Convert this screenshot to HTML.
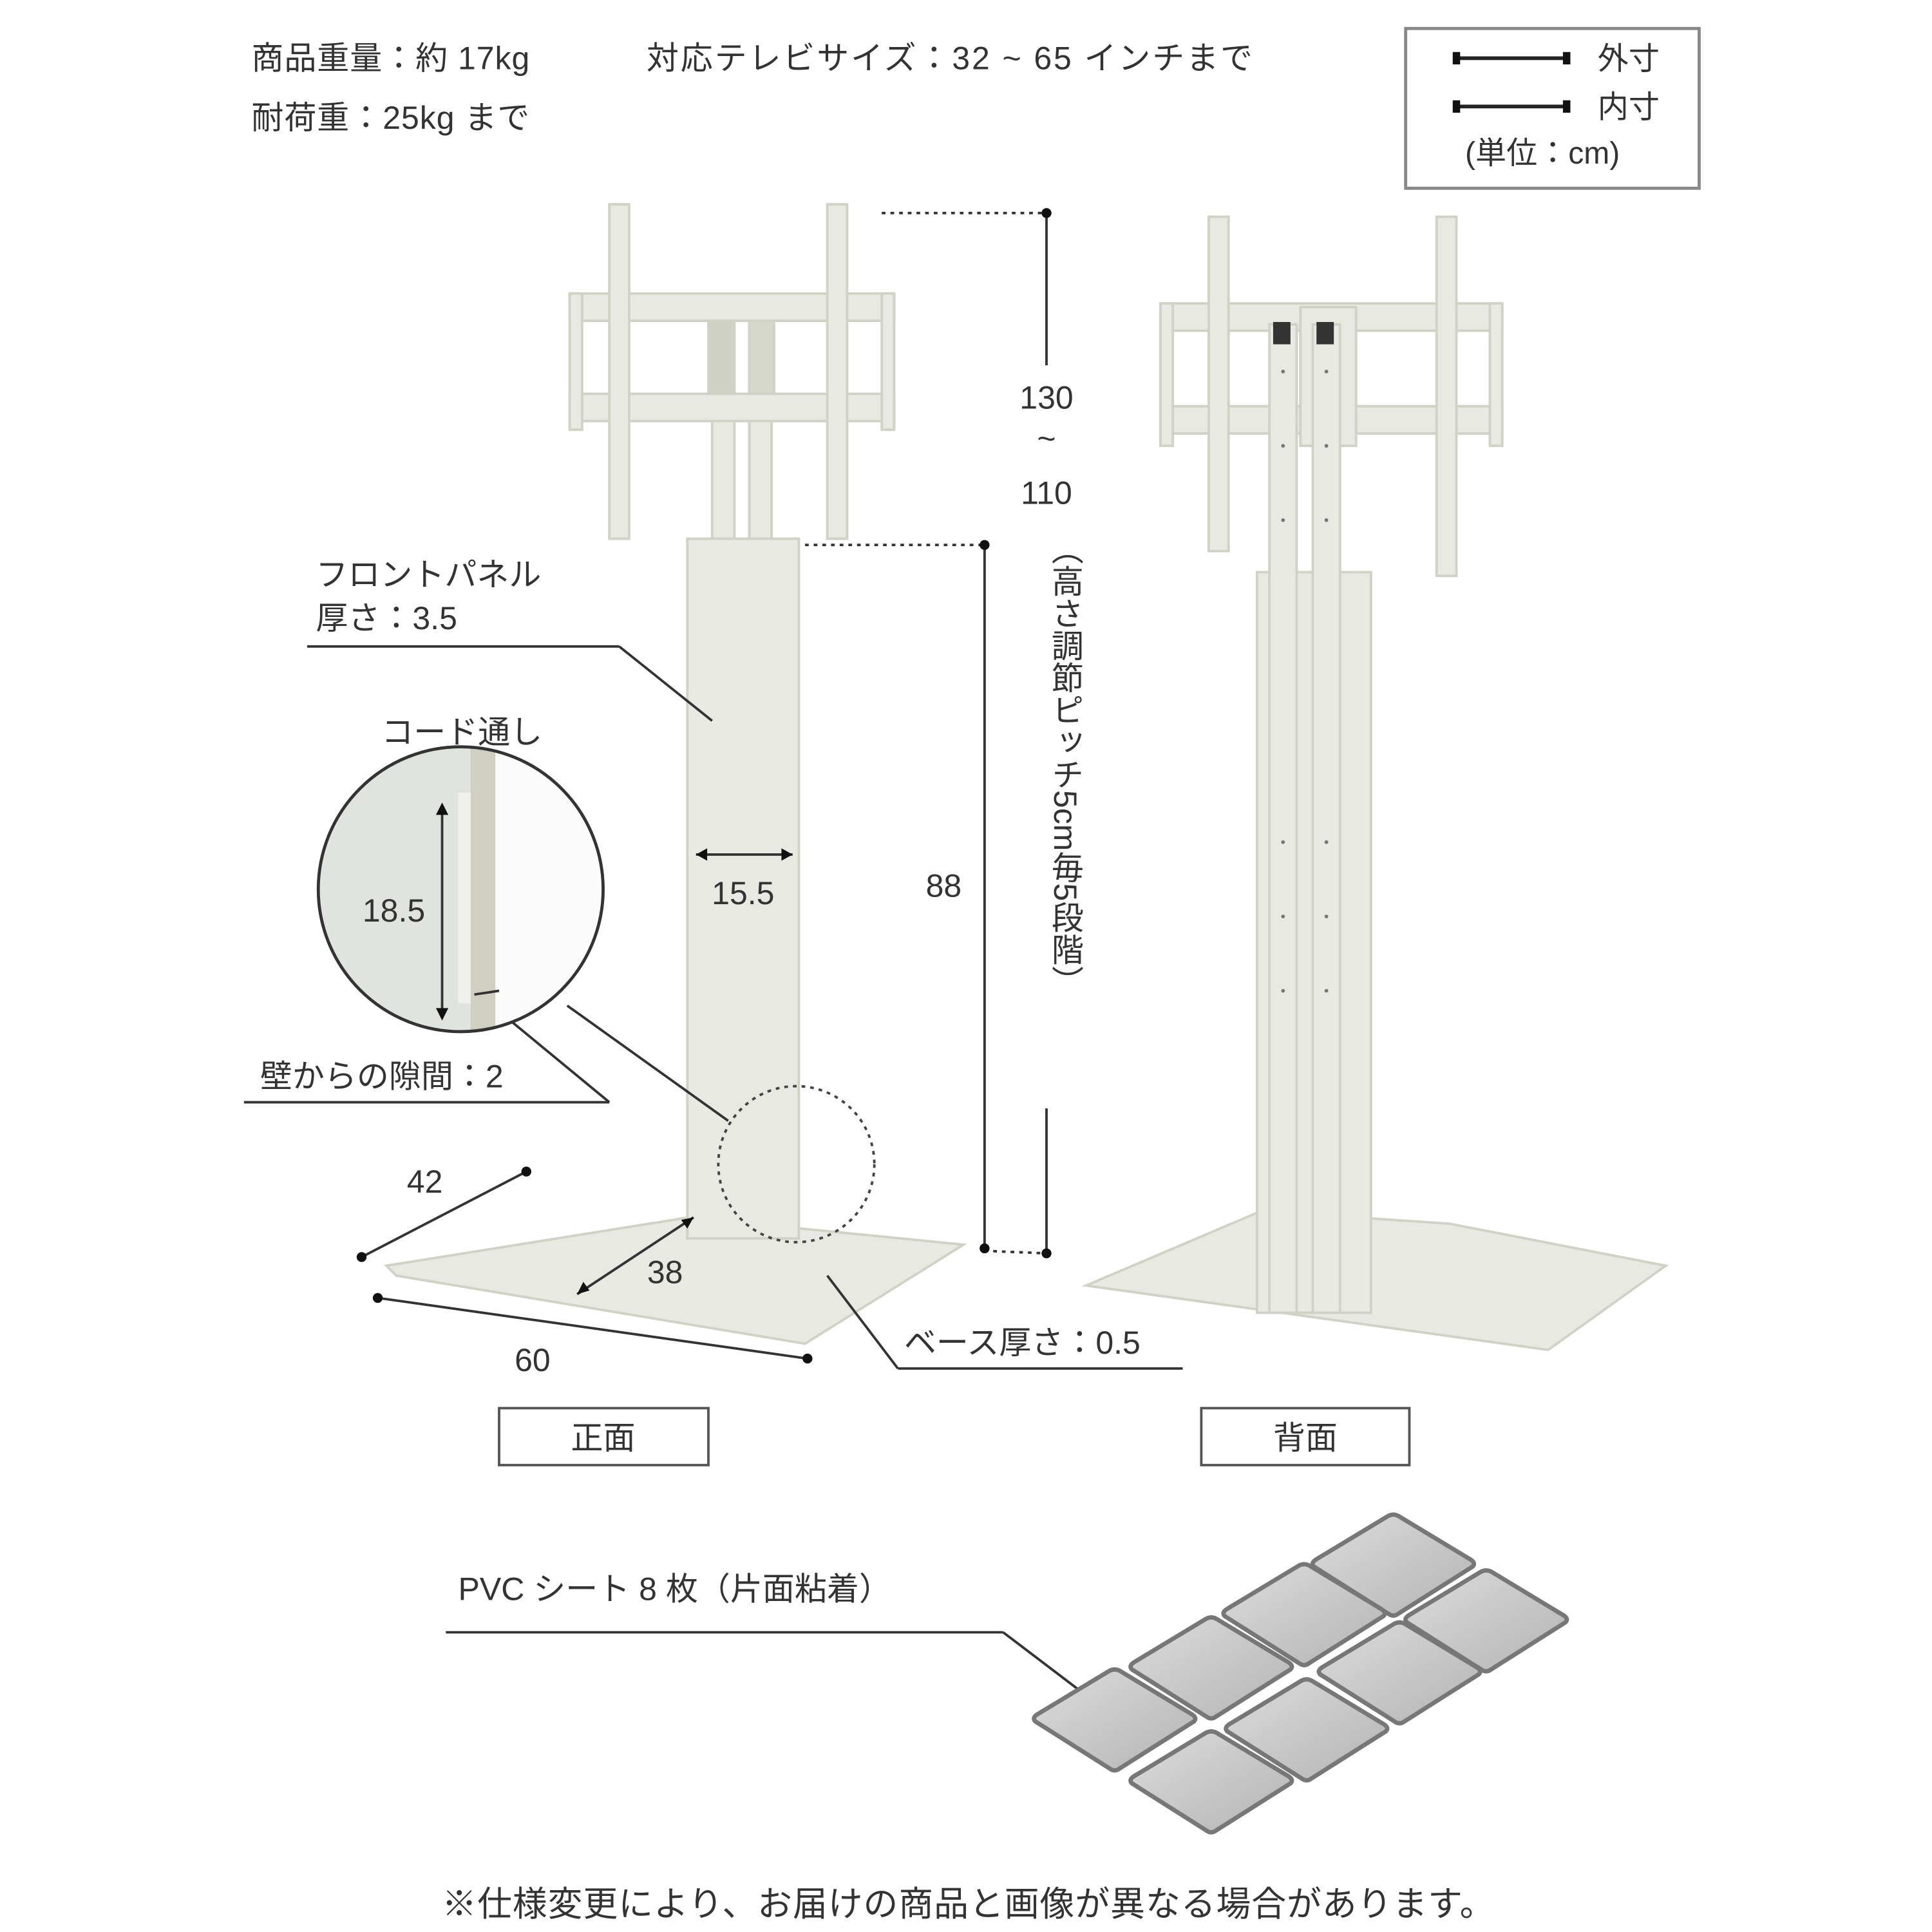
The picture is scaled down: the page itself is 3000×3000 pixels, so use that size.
<!DOCTYPE html>
<html><head><meta charset="utf-8"><style>
html,body{margin:0;padding:0;background:#fff}
svg{display:block}
text{font-family:"Liberation Sans","Noto Sans CJK JP",sans-serif;fill:#333}
</style></head><body>
<svg width="3000" height="3000" viewBox="0 0 1560 1560" xmlns="http://www.w3.org/2000/svg">
<defs>
<linearGradient id="tg" x1="0" y1="0" x2="1" y2="1"><stop offset="0" stop-color="#dcdcdc"/><stop offset="1" stop-color="#b4b4b4"/></linearGradient>
<clipPath id="cc"><circle cx="372" cy="718" r="115"/></clipPath>
<g id="tile"><path d="M-64,0 Q-67,-3 -62,-6 L-4,-41 Q0,-43 4,-41 L62,-6 Q67,-3 64,0 L4,38 Q0,41 -4,38 Z" fill="url(#tg)" stroke="#777" stroke-width="3.5"/></g>
</defs>
<g font-size="26" letter-spacing="0.5">
<text x="203" y="56">商品重量：約 17kg</text>
<text x="522" y="56" letter-spacing="1.5">対応テレビサイズ：32 ~ 65 インチまで</text>
<text x="203" y="104">耐荷重：25kg まで</text>
</g>
<rect x="1135" y="23" width="237" height="129" fill="#fff" stroke="#888" stroke-width="2.5"/>
<g stroke="#222" stroke-width="3"><line x1="1177" y1="47" x2="1266" y2="47"/><line x1="1177" y1="86" x2="1266" y2="86"/></g>
<g fill="#111"><rect x="1173" y="42" width="6" height="10"/><rect x="1262" y="42" width="6" height="10"/><rect x="1173" y="81" width="6" height="10"/><rect x="1262" y="81" width="6" height="10"/></g>
<g font-size="25"><text x="1290" y="56">外寸</text><text x="1290" y="95">内寸</text><text x="1183" y="132">(単位：cm)</text></g>

<!-- FRONT STAND -->
<g fill="#e8e9e3" stroke="#d0d2c6" stroke-width="2">
<rect x="575" y="258" width="18" height="180"/><rect x="605" y="258" width="18" height="180"/>
<rect x="572" y="258" width="20" height="60" fill="#cfd1c4"/><rect x="605" y="258" width="20" height="60" fill="#d6d8cc"/>
<rect x="460" y="237" width="262" height="22"/><rect x="460" y="318" width="262" height="22"/>
<rect x="460" y="237" width="10" height="110"/><rect x="712" y="237" width="10" height="110"/>
<rect x="492" y="165" width="16" height="270"/><rect x="668" y="165" width="16" height="270"/>
<polygon points="312,1022 556,983 778,1005 650,1085 320,1030"/>
<rect x="555" y="435" width="90" height="565"/>
</g>
<!-- BACK STAND -->
<g fill="#e8e9e3" stroke="#d0d2c6" stroke-width="2">
<polygon points="877,1038 1018,978 1170,988 1345,1022 1250,1090"/>
<rect x="937" y="245" width="276" height="22"/><rect x="937" y="328" width="276" height="22"/>
<rect x="937" y="245" width="10" height="115"/><rect x="1203" y="245" width="10" height="115"/>
<rect x="976" y="175" width="16" height="270"/><rect x="1160" y="175" width="16" height="290"/>
<rect x="1050" y="248" width="45" height="112"/>
<rect x="1015" y="462" width="92" height="598"/>
<rect x="1025" y="262" width="22" height="798"/><rect x="1060" y="262" width="22" height="798"/>
</g>
<rect x="1028" y="260" width="14" height="18" fill="#333"/><rect x="1063" y="260" width="14" height="18" fill="#333"/>
<g fill="#777"><circle cx="1036" cy="300" r="1.5"/><circle cx="1036" cy="360" r="1.5"/><circle cx="1036" cy="420" r="1.5"/><circle cx="1036" cy="680" r="1.5"/><circle cx="1036" cy="740" r="1.5"/><circle cx="1036" cy="800" r="1.5"/><circle cx="1071" cy="300" r="1.5"/><circle cx="1071" cy="360" r="1.5"/><circle cx="1071" cy="420" r="1.5"/><circle cx="1071" cy="680" r="1.5"/><circle cx="1071" cy="740" r="1.5"/><circle cx="1071" cy="800" r="1.5"/></g>

<!-- dimension lines -->
<g stroke="#333" stroke-width="2" fill="none">
<line x1="712" y1="172" x2="845" y2="172" stroke-dasharray="3 4"/>
<line x1="845" y1="172" x2="845" y2="295"/>
<line x1="845" y1="895" x2="845" y2="1012"/>
<line x1="650" y1="440" x2="795" y2="440" stroke-dasharray="3 4"/>
<line x1="795" y1="440" x2="795" y2="1008"/>
<line x1="795" y1="1010" x2="845" y2="1012" stroke-dasharray="3 4"/>
<line x1="562" y1="690" x2="640" y2="690"/>
<line x1="292" y1="1015" x2="425" y2="946"/>
<line x1="305" y1="1048" x2="652" y2="1097"/>
<line x1="466" y1="1045" x2="560" y2="983"/>
<line x1="248" y1="522" x2="500" y2="522"/><line x1="500" y1="522" x2="575" y2="582"/>
<line x1="197" y1="890" x2="492" y2="890"/><line x1="492" y1="890" x2="395" y2="810"/>
<line x1="458" y1="812" x2="588" y2="905"/>
<line x1="668" y1="1030" x2="725" y2="1105"/><line x1="725" y1="1105" x2="955" y2="1105"/>
<line x1="360" y1="1318" x2="810" y2="1318"/><line x1="810" y1="1318" x2="885" y2="1375"/>
</g>
<g fill="#111"><circle cx="845" cy="172" r="4"/><circle cx="845" cy="1012" r="4"/><circle cx="795" cy="440" r="4"/><circle cx="795" cy="1008" r="4"/><circle cx="292" cy="1015" r="4"/><circle cx="425" cy="946" r="4"/><circle cx="305" cy="1048" r="4"/><circle cx="652" cy="1097" r="4"/>
<path d="M562,690 l9,-5 v10z M640,690 l-9,-5 v10z M466,1045 l5,-10 l5,7z M560,983 l-10,2 l5,7z"/></g>
<circle cx="643" cy="940" r="63" fill="none" stroke="#444" stroke-width="2" stroke-dasharray="3 4"/>

<!-- detail circle -->
<g clip-path="url(#cc)">
<rect x="250" y="600" width="250" height="240" fill="#e1e3df"/>
<rect x="398" y="600" width="100" height="240" fill="#fbfbfb"/>
<rect x="380" y="600" width="20" height="240" fill="#cfd0c2"/>
<rect x="370" y="640" width="10" height="170" fill="#f0f1ec"/>
</g>
<circle cx="372" cy="718" r="115" fill="none" stroke="#333" stroke-width="2.5"/>
<g stroke="#333" stroke-width="2"><line x1="357" y1="652" x2="357" y2="820"/><line x1="383" y1="803" x2="403" y2="800"/></g>
<g fill="#111"><path d="M357,648 l-5,10 h10z M357,824 l-5,-10 h10z"/></g>

<g font-size="26">
<text x="845" y="330" text-anchor="middle">130</text>
<text x="845" y="363" text-anchor="middle">~</text>
<text x="845" y="407" text-anchor="middle">110</text>
<text x="860" y="430" writing-mode="tb" glyph-orientation-vertical="0">（高さ調節ピッチ5cm毎5段階）</text>
<text x="762" y="724" text-anchor="middle">88</text>
<text x="600" y="730" text-anchor="middle">15.5</text>
<text x="255" y="473">フロントパネル</text>
<text x="255" y="508">厚さ：3.5</text>
<text x="373" y="600" text-anchor="middle">コード通し</text>
<text x="318" y="744" text-anchor="middle">18.5</text>
<text x="210" y="878">壁からの隙間：2</text>
<text x="343" y="963" text-anchor="middle">42</text>
<text x="537" y="1036" text-anchor="middle">38</text>
<text x="430" y="1107" text-anchor="middle">60</text>
<text x="730" y="1093">ベース厚さ：0.5</text>
<text x="370" y="1292">PVC シート 8 枚（片面粘着）</text>
<text x="782" y="1547" text-anchor="middle" font-size="28" letter-spacing="0.5">※仕様変更により、お届けの商品と画像が異なる場合があります。</text>
</g>
<rect x="403" y="1137" width="169" height="46" fill="#fff" stroke="#555" stroke-width="2"/>
<rect x="970" y="1137" width="168" height="46" fill="#fff" stroke="#555" stroke-width="2"/>
<g font-size="26"><text x="487" y="1170" text-anchor="middle">正面</text><text x="1054" y="1170" text-anchor="middle">背面</text></g>

<!-- tiles -->
<use href="#tile" x="1125" y="1265"/><use href="#tile" x="1053" y="1305"/><use href="#tile" x="1200" y="1310"/><use href="#tile" x="978" y="1348"/><use href="#tile" x="1130" y="1352"/><use href="#tile" x="900" y="1390"/><use href="#tile" x="1055" y="1398"/><use href="#tile" x="978" y="1440"/>
</svg>
</body></html>
